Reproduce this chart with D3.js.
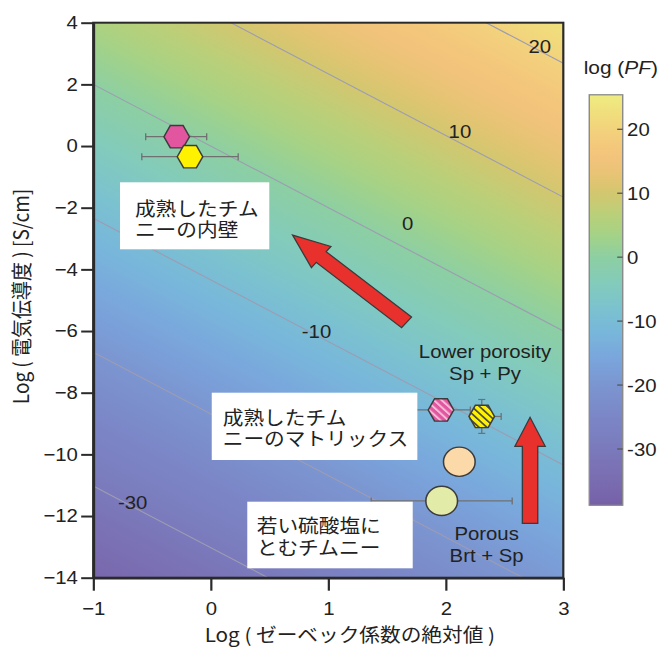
<!DOCTYPE html>
<html>
<head>
<meta charset="utf-8">
<script src="https://cdn.jsdelivr.net/npm/d3@7"></script>
<style>
  body { margin: 0; background: #fff; }
  svg { display: block; }
  text { font-family: Arial, "Liberation Sans", "Noto Sans CJK JP", sans-serif; fill: #222; }
  .jp { font-family: "Noto Sans CJK JP", "Noto Sans CJK SC", sans-serif; }
</style>
</head>
<body>
<svg id="chart" width="665" height="651"></svg>
<script>
// ---- axis ticks ----
const xTicks = [-1, 0, 1, 2, 3];
const yTicks = [4, 2, 0, -2, -4, -6, -8, -10, -12, -14];
const pfTicks = [20, 10, 0, -10, -20, -30];

// ---- iso-PF lines (natural log of PF = S^2 * sigma) ----
const contourLevels = [-30, -20, -10, 0, 10, 20];
const labelLevels = [-30, -10, 0, 10, 20];
const labelLogS   = [-0.665, 0.90, 1.676, 2.12, 2.80];
const labelLogSig = [-11.57, -6.02, -2.51, 0.47, 3.22];

// ---- samples: log|S| and log(sigma) ----
const sampleLogS   = [-0.290, -0.177, 1.959, 2.306, 2.115, 1.965];
const sampleLogSig = [0.302, -0.346, -8.56, -8.77, -10.24, -11.51];
const errSLow      = [0.264, 0.41, 0.25, 0.10, 0, 0.60];
const errSHigh     = [0.255, 0.41, 0.25, 0.165, 0, 0.60];
const errSig       = [0, 0, 0, 0.55, 0, 0];
const sampleShape  = ["hex", "hex", "hex", "hex", "circle", "circle"];
const sampleFill   = ["#e2559f", "#fff200", "url(#hatchPink)", "url(#hatchYellow)", "#fcd9a9", "#e3eba8"];

// ---- trend arrows (tail -> tip, in log units) ----
const arrowTail = [[1.666, -5.72], [2.717, -12.24]];
const arrowTip  = [[0.696, -2.89], [2.717, -8.80]];

// ---- colour ramp for log(PF) ----
const rampValues = [-38.8, -35, -30, -25, -20, -16, -12, -8, -4, 0, 4, 7, 10, 12, 15, 18, 22, 25.4];
const rampColors = ["#7660a8", "#7a6cb0", "#7a7abc", "#7b86c7", "#7b95d1", "#7aa5dc", "#78b5db", "#7bc2cf",
                    "#83cbba", "#8dcfa2", "#a8d283", "#bccf78", "#d2c770", "#e2c472", "#f2c37b", "#f4ca7c",
                    "#f1dc7c", "#eeec82"];

const SX = 1.1; // the whole figure is drawn slightly wide
const svg = d3.select("#chart");
const defs = svg.append("defs");
const g = svg.append("g").attr("transform", `scale(${SX},1)`);

const x = d3.scaleLinear().domain([-1, 3]).range([84.8, 512.1]);
const y = d3.scaleLinear().domain([-14, 4]).range([577.7, 22.7]);
const color = d3.scaleLinear().domain(rampValues).range(rampColors).interpolate(d3.interpolateRgb);
const LN10 = Math.LN10;

const [px0, px1] = x.range();
const [py1, py0] = y.range();

// ---- background field, as a linear gradient perpendicular to the iso-PF lines ----
const A = LN10 * 2 / (x(1) - x(0));
const B = LN10 / (y(1) - y(0));
const G = Math.hypot(A, B);
const ux = A / G, uy = B / G;
const ox = x(0), oy = y(0);
const vMin = rampValues[0], vMax = rampValues[rampValues.length - 1];
const field = defs.append("linearGradient").attr("id", "field").attr("gradientUnits", "userSpaceOnUse")
  .attr("x1", ox + ux * vMin / G).attr("y1", oy + uy * vMin / G)
  .attr("x2", ox + ux * vMax / G).attr("y2", oy + uy * vMax / G);
d3.range(0, 1.0001, 0.02).forEach(t => {
  field.append("stop").attr("offset", t).attr("stop-color", color(vMin + t * (vMax - vMin)));
});

defs.append("clipPath").attr("id", "plotClip").append("rect")
  .attr("x", px0).attr("y", py0).attr("width", px1 - px0).attr("height", py1 - py0);

// hatch patterns
function hatch(id, base, stripe, w) {
  const p = defs.append("pattern").attr("id", id).attr("patternUnits", "userSpaceOnUse")
    .attr("width", 5).attr("height", 5).attr("patternTransform", "rotate(-45)");
  p.append("rect").attr("width", 5).attr("height", 5).attr("fill", base);
  p.append("rect").attr("width", w).attr("height", 5).attr("fill", stripe);
}
hatch("hatchPink", "#e2559f", "#f5bcd9", 1.9);
hatch("hatchYellow", "#fff200", "#4a4a4a", 1.6);

g.append("rect").attr("x", px0).attr("y", py0).attr("width", px1 - px0).attr("height", py1 - py0)
  .attr("fill", "url(#field)");

// ---- iso-PF lines ----
const plot = g.append("g").attr("clip-path", "url(#plotClip)");
plot.selectAll("line.iso").data(contourLevels).join("line").attr("class", "iso")
  .attr("x1", x(-1)).attr("y1", L => y(L / LN10 + 2))
  .attr("x2", x(3)).attr("y2", L => y(L / LN10 - 6))
  .attr("stroke", "#9d9cb2").attr("stroke-width", 1.1);

plot.selectAll("text.iso").data(labelLevels).join("text").attr("class", "iso")
  .attr("x", (d, i) => x(labelLogS[i])).attr("y", (d, i) => y(labelLogSig[i]))
  .attr("dy", "0.36em").attr("text-anchor", "middle").attr("font-size", 18.5)
  .text(d => d);

// ---- error bars ----
const idx = d3.range(sampleLogS.length);
const eb = plot.append("g").attr("stroke", "#707070").attr("stroke-width", 1.2);
idx.filter(i => errSLow[i] > 0 || errSHigh[i] > 0).forEach(i => {
  const cy = y(sampleLogSig[i]);
  const xa = x(sampleLogS[i] - errSLow[i]), xb = x(sampleLogS[i] + errSHigh[i]);
  eb.append("line").attr("x1", xa).attr("x2", xb).attr("y1", cy).attr("y2", cy);
  eb.append("line").attr("x1", xa).attr("x2", xa).attr("y1", cy - 3.5).attr("y2", cy + 3.5);
  eb.append("line").attr("x1", xb).attr("x2", xb).attr("y1", cy - 3.5).attr("y2", cy + 3.5);
});
idx.filter(i => errSig[i] > 0).forEach(i => {
  const cx = x(sampleLogS[i]);
  const ya = y(sampleLogSig[i] - errSig[i]), yb = y(sampleLogSig[i] + errSig[i]);
  eb.append("line").attr("x1", cx).attr("x2", cx).attr("y1", ya).attr("y2", yb);
  eb.append("line").attr("x1", cx - 3.2).attr("x2", cx + 3.2).attr("y1", ya).attr("y2", ya);
  eb.append("line").attr("x1", cx - 3.2).attr("x2", cx + 3.2).attr("y1", yb).attr("y2", yb);
});

// ---- label boxes (two-line captions) ----
const boxes = [
  { x: 109.1, y: 182.3, w: 135.7, h: 67, lines: ["成熟したチム", "ニーの内壁"], tx: 122.7, ty: 216 },
  { x: 192.5, y: 392.7, w: 186.9, h: 67.3, lines: ["成熟したチム", "ニーのマトリックス"], tx: 202.5, ty: 425 },
  { x: 224.8, y: 501.7, w: 150.4, h: 66.6, lines: ["若い硫酸塩に", "とむチムニー"], tx: 233.4, ty: 533.5 }
];
boxes.forEach(b => {
  g.append("rect").attr("x", b.x).attr("y", b.y).attr("width", b.w).attr("height", b.h).attr("fill", "#fff");
  const t = g.append("text").attr("class", "jp").attr("font-size", 18.8);
  b.lines.forEach((s, k) => {
    t.append("tspan").attr("x", b.tx).attr("y", b.ty + k * 21.5).text(s);
  });
});

// ---- markers ----
const hexPath = (cx, cy, hw, hh) => {
  const pts = [[cx - hw, cy], [cx - hw / 2, cy - hh], [cx + hw / 2, cy - hh], [cx + hw, cy], [cx + hw / 2, cy + hh], [cx - hw / 2, cy + hh]];
  return "M" + pts.map(p => p.join(",")).join("L") + "Z";
};
const marks = g.append("g").attr("stroke", "#3c3c3c").attr("stroke-width", 1.4);
idx.forEach(i => {
  const cx = x(sampleLogS[i]), cy = y(sampleLogSig[i]);
  if (sampleShape[i] === "hex") {
    marks.append("path").attr("d", hexPath(cx, cy, 11.6, 11.2)).attr("fill", sampleFill[i]);
  } else {
    marks.append("ellipse").attr("cx", cx).attr("cy", cy).attr("rx", 14.4).attr("ry", 14.6).attr("fill", sampleFill[i]);
  }
});

// ---- arrows ----
const arrowHead = [34, 29];
arrowTail.forEach((t, i) => {
  const T = [x(t[0]), y(t[1])], P = [x(arrowTip[i][0]), y(arrowTip[i][1])];
  const len = Math.hypot(P[0] - T[0], P[1] - T[1]);
  const u = [(P[0] - T[0]) / len, (P[1] - T[1]) / len], n = [-u[1], u[0]];
  const w1 = 7, w2 = 13.8, hl = arrowHead[i];
  const Bp = [P[0] - u[0] * hl, P[1] - u[1] * hl];
  const pts = [
    [T[0] + n[0] * w1, T[1] + n[1] * w1], [Bp[0] + n[0] * w1, Bp[1] + n[1] * w1],
    [Bp[0] + n[0] * w2, Bp[1] + n[1] * w2], P,
    [Bp[0] - n[0] * w2, Bp[1] - n[1] * w2], [Bp[0] - n[0] * w1, Bp[1] - n[1] * w1],
    [T[0] - n[0] * w1, T[1] - n[1] * w1]
  ];
  g.append("path").attr("d", "M" + pts.map(p => p.join(",")).join("L") + "Z")
    .attr("fill", "#e8302c").attr("stroke", "#3a3a3a").attr("stroke-width", 1.2).attr("stroke-linejoin", "miter");
});

// ---- free annotations ----
const notes = [
  { cx: 440.9, y: 358, lines: ["Lower porosity", "Sp + Py"] },
  { cx: 442.4, y: 540, lines: ["Porous", "Brt + Sp"] }
];
notes.forEach(nt => {
  const t = g.append("text").attr("text-anchor", "middle").attr("font-size", 18.5).attr("fill", "#333");
  nt.lines.forEach((s, k) => t.append("tspan").attr("x", nt.cx).attr("y", nt.y + k * 22.5).text(s));
});

// ---- frame and axes ----
g.append("rect").attr("x", px0).attr("y", py0).attr("width", px1 - px0).attr("height", py1 - py0)
  .attr("fill", "none").attr("stroke", "#2a2a2a").attr("stroke-width", 2);

const fmt = d3.format("d");
const yAxis = g.append("g").attr("transform", `translate(${px0},0)`)
  .call(d3.axisLeft(y).tickValues(yTicks).tickFormat(fmt).tickSize(11).tickSizeOuter(0).tickPadding(3));
const xAxis = g.append("g").attr("transform", `translate(0,${py1})`)
  .call(d3.axisBottom(x).tickValues(xTicks).tickFormat(fmt).tickSize(13).tickSizeOuter(0).tickPadding(11));
[yAxis, xAxis].forEach(a => {
  a.select(".domain").attr("stroke", "#2a2a2a").attr("stroke-width", 2.4);
  a.selectAll(".tick line").attr("stroke", "#2a2a2a").attr("stroke-width", 2);
  a.selectAll(".tick text").attr("font-size", 18.5).attr("fill", "#222")
    .attr("font-family", "Arial, 'Liberation Sans', sans-serif");
});

g.append("text").attr("class", "jp")
  .attr("transform", `translate(20,296.5) rotate(-90)`)
  .attr("text-anchor", "middle").attr("dy", "0.35em").attr("font-size", 19)
  .text("Log ( 電気伝導度 ) [S/cm]");
g.append("text").attr("class", "jp")
  .attr("x", 318).attr("y", 642).attr("text-anchor", "middle").attr("font-size", 18.8)
  .text("Log ( ゼーベック係数の絶対値 )");

// ---- colour bar ----
const cbX = 535.7, cbW = 30.4;
const cb = d3.scaleLinear().domain([-30, 20]).range([449, 129.3]);
const cbTop = cb(vMax), cbBot = cb(vMin);
const cbGrad = defs.append("linearGradient").attr("id", "cbGrad").attr("x1", 0).attr("y1", 1).attr("x2", 0).attr("y2", 0);
d3.range(0, 1.0001, 0.02).forEach(t => {
  cbGrad.append("stop").attr("offset", t).attr("stop-color", color(vMin + t * (vMax - vMin)));
});
g.append("rect").attr("x", cbX).attr("y", cbTop).attr("width", cbW).attr("height", cbBot - cbTop)
  .attr("fill", "url(#cbGrad)").attr("stroke", "#8a8a8a").attr("stroke-width", 1.3);
g.selectAll("line.cbt").data(pfTicks).join("line").attr("class", "cbt")
  .attr("x1", cbX + cbW - 5).attr("x2", cbX + cbW).attr("y1", d => cb(d)).attr("y2", d => cb(d))
  .attr("stroke", "#555").attr("stroke-width", 1.3);
g.selectAll("text.cbt").data(pfTicks).join("text").attr("class", "cbt")
  .attr("x", cbX + cbW + 4).attr("y", d => cb(d)).attr("dy", "0.36em").attr("font-size", 18.5).text(d => d);
const cbTitle = g.append("text").attr("x", 564.4).attr("y", 74).attr("text-anchor", "middle").attr("font-size", 19);
cbTitle.append("tspan").text("log (");
cbTitle.append("tspan").attr("font-style", "italic").text("PF");
cbTitle.append("tspan").text(")");
</script>
</body>
</html>
